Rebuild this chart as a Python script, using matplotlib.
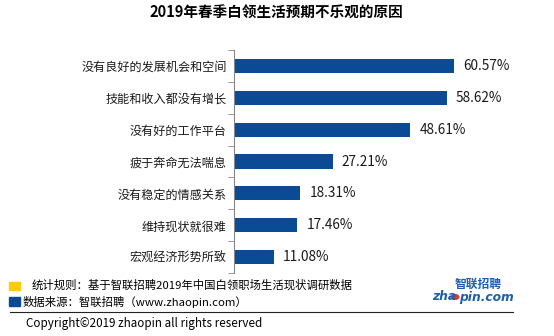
import matplotlib
matplotlib.use("Agg")
import matplotlib.pyplot as plt
from matplotlib.patches import Rectangle, Circle
from matplotlib.lines import Line2D

plt.rcParams['font.family'] = ['Noto Sans CJK SC', 'DejaVu Sans']

# data
categories = ["没有良好的发展机会和空间", "技能和收入都没有增长", "没有好的工作平台",
              "疲于奔命无法喘息", "没有稳定的情感关系", "维持现状就很难", "宏观经济形势所致"]
values = [60.57, 58.62, 48.61, 27.21, 18.31, 17.46, 11.08]

title = "2019年春季白领生活预期不乐观的原因"
note_rule = "统计规则：基于智联招聘2019年中国白领职场生活现状调研数据"
note_source = "数据来源：智联招聘（www.zhaopin.com）"
copyright_text = "Copyright©2019 zhaopin all rights reserved"

BLUE = "#0b4a94"
YELLOW = "#ffcc00"
LOGO_BLUE = "#1d5fae"
W, H = 554, 336

fig = plt.figure(figsize=(W / 100, H / 100), dpi=100)
ax = fig.add_axes([233.7 / W, 1 - 273 / H, 291.3 / W, 223 / H])

ypos = list(range(len(categories)))
ax.barh(ypos, values, height=0.44, color=BLUE)
ax.set_xlim(0, 291.3 / 3.637)
ax.set_ylim(len(categories) - 0.5, -0.5)

for y, v in zip(ypos, values):
    ax.text(v + 2.5, y, f"{v:.2f}%", va="center", ha="left", fontsize=9.8, color="#1a1a1a")

ax.set_yticks(ypos)
ax.set_yticklabels(categories, fontsize=8.7, color="#1a1a1a")
ax.tick_params(axis="y", which="major", length=0, pad=5)
ax.set_yticks([i - 0.5 for i in range(len(categories) + 1)], minor=True)
ax.tick_params(axis="y", which="minor", length=4, color="#868686", direction="out")
ax.set_xticks([])
for s in ("top", "right", "bottom"):
    ax.spines[s].set_visible(False)
ax.spines["left"].set_color("#868686")

fig.text(276.5 / W, 1 - 13 / H, title, ha="center", va="center",
         fontsize=10.5, fontweight="bold")

# footnotes
fig.patches.append(Rectangle((9 / W, 1 - 290 / H), 11 / W, 8 / H,
                             transform=fig.transFigure, color=YELLOW))
fig.patches.append(Rectangle((9 / W, 1 - 306 / H), 11 / W, 9 / H,
                             transform=fig.transFigure, color=BLUE))
fig.text(32 / W, 1 - 285 / H, note_rule, ha="left", va="center", fontsize=8.2)
fig.text(23 / W, 1 - 302 / H, note_source, ha="left", va="center", fontsize=8.2)
fig.lines.append(Line2D([10 / W, 513 / W], [1 - 312 / H] * 2,
                        transform=fig.transFigure, color="#222222", lw=0.8))
fig.text(26 / W, 1 - 323 / H, copyright_text, ha="left", va="center", fontsize=8.4)

# logo
fig.text(502 / W, 1 - 284 / H, "智联招聘", ha="right", va="center", fontsize=8.5,
         fontweight="bold", color=LOGO_BLUE, style="italic")
fig.text(432 / W, 1 - 297 / H, "zha", ha="left", va="center", fontsize=8.8,
         fontweight="bold", color=LOGO_BLUE, style="italic", family="DejaVu Sans")
fig.patches.append(Circle((455 / W, 1 - 297 / H), 3.8 / W, transform=fig.transFigure,
                          color="#e03a1e"))
fig.text(459 / W, 1 - 297 / H, "pin.com", ha="left", va="center", fontsize=8.8,
         fontweight="bold", color=LOGO_BLUE, style="italic", family="DejaVu Sans")

fig.savefig("out.png", dpi=100)
